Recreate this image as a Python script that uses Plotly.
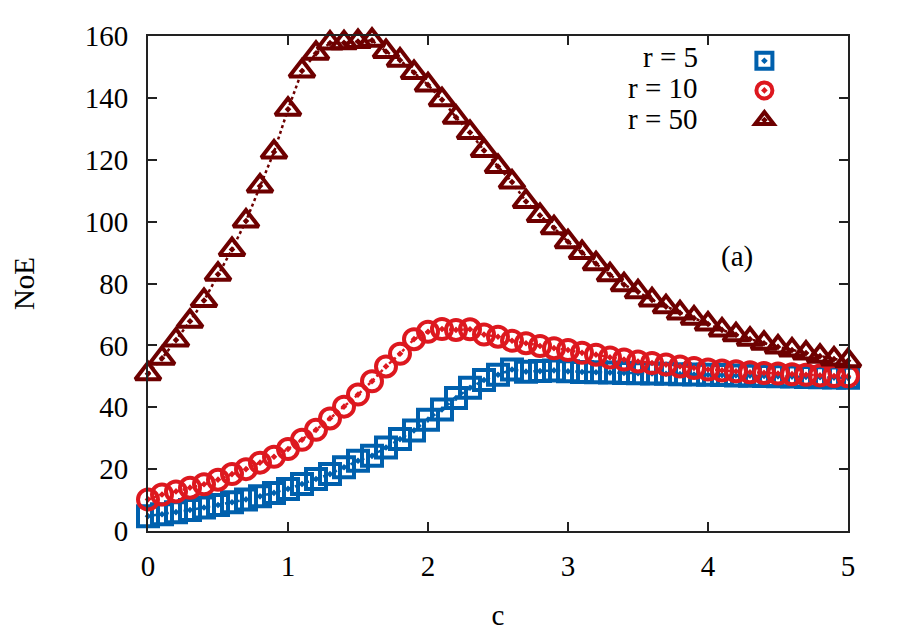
import plotly.graph_objs as go

FONT = "Liberation Serif, Times New Roman, serif"

c = [round(0.1 * i, 1) for i in range(51)]

noe_r5 = [
    4.8, 5.4, 6.1, 6.8, 7.6, 8.4, 9.3, 10.2, 11.2, 12.3,
    13.6, 15.2, 16.8, 18.4, 20.6, 22.7, 24.3, 27.0, 29.7, 32.5,
    36.0, 39.3, 43.0, 46.3, 48.8, 50.5, 52.2, 51.5, 51.7, 51.9,
    51.6, 51.4, 51.3, 51.2, 51.1, 51.0, 50.9, 50.8, 50.7, 50.6,
    50.5, 50.4, 50.3, 50.2, 50.1, 50.0, 49.9, 49.8, 49.7, 49.6,
    49.5,
]
noe_r10 = [
    10.2, 11.8, 12.8, 14.0, 15.1, 16.6, 18.4, 20.0, 22.1, 24.0,
    26.5, 29.5, 32.7, 36.4, 40.2, 44.1, 48.4, 53.2, 57.3, 62.0,
    64.4, 65.3, 65.0, 65.2, 63.5, 62.8, 61.5, 60.7, 59.8, 59.1,
    58.5, 57.6, 57.0, 56.1, 55.4, 54.8, 54.3, 53.8, 53.2, 52.7,
    52.2, 51.9, 51.6, 51.3, 51.1, 50.9, 50.7, 50.5, 50.3, 50.1,
    50.0,
]
noe_r50 = [
    50.8, 55.8, 61.7, 67.8, 74.5, 83.0, 91.0, 100.2, 111.5, 122.5,
    136.3, 148.7, 154.4, 157.7, 157.8, 158.2, 158.6, 155.0, 152.2, 148.2,
    144.2, 139.4, 133.7, 128.8, 123.0, 117.8, 112.8, 106.5, 102.0, 98.0,
    93.5, 90.0, 86.4, 82.8, 79.6, 77.3, 74.7, 72.5, 70.5, 68.8,
    66.9, 65.0, 63.4, 62.0, 60.7, 59.5, 58.5, 57.5, 56.5, 55.6,
    55.0,
]

labels = ["r = 5", "r = 10", "r = 50"]
series = [noe_r5, noe_r10, noe_r50]
colors = ["#0060ad", "#dd181f", "#6e0000"]
symbols = ["square-open-dot", "circle-open-dot", "triangle-up-open-dot"]
sizes = [20, 20, 22]

fig = go.Figure()

for i, y in enumerate(series):
    # dotted connecting line (no legend entry, like gnuplot's key shows points only)
    fig.add_trace(
        go.Scatter(
            x=c,
            y=y,
            mode="lines",
            line=dict(color=colors[i], width=2.5, dash="dot"),
            showlegend=False,
            hoverinfo="skip",
            cliponaxis=False,
        )
    )
    fig.add_trace(
        go.Scatter(
            x=c,
            y=y,
            mode="markers",
            marker=dict(
                symbol=symbols[i],
                size=sizes[i],
                color=colors[i],
                line=dict(color=colors[i], width=4),
            ),
            name="",
            legendrank=i + 1,
            cliponaxis=False,
            hovertemplate=labels[i] + "<br>c=%{x}<br>NoE=%{y}<extra></extra>",
        )
    )

# key labels sit left of the symbols, gnuplot style
for i, lab in enumerate(labels):
    fig.add_annotation(
        text=lab,
        xref="paper",
        yref="paper",
        x=0.789,
        y=0.958 - i * 0.0625,
        xanchor="right",
        yanchor="middle",
        showarrow=False,
        font=dict(family=FONT, size=29, color="black"),
    )

fig.add_annotation(
    text="(a)",
    xref="paper",
    yref="paper",
    x=0.841,
    y=0.554,
    xanchor="center",
    yanchor="middle",
    showarrow=False,
    font=dict(family=FONT, size=29, color="black"),
)

axis_common = dict(
    showgrid=False,
    zeroline=False,
    showline=True,
    linecolor="#222222",
    linewidth=2,
    mirror="ticks",
    ticks="inside",
    ticklen=9,
    tickwidth=1.5,
    tickcolor="#222222",
    tickfont=dict(family=FONT, size=29, color="black"),
)

fig.update_xaxes(
    range=[0, 5],
    dtick=1,
    ticklabelstandoff=8,
    title=dict(text="c", font=dict(family=FONT, size=29, color="black"), standoff=24),
    **axis_common,
)
fig.update_yaxes(
    range=[0, 160],
    dtick=20,
    ticklabelstandoff=12,
    title=dict(text="NoE", font=dict(family=FONT, size=29, color="black"), standoff=42),
    **axis_common,
)

# page body adds ~8px offset, so margins are shifted to keep the frame in place
fig.update_layout(
    width=900,
    height=630,
    plot_bgcolor="white",
    paper_bgcolor="white",
    margin=dict(l=140, r=60, t=28, b=104),
    font=dict(family=FONT, size=29, color="black"),
    legend=dict(
        x=0.852,
        y=0.99,
        xanchor="left",
        yanchor="top",
        bgcolor="rgba(0,0,0,0)",
        font=dict(family=FONT, size=20.5),
        itemsizing="trace",
        tracegroupgap=0,
    ),
)

fig.write_html("out.html")
